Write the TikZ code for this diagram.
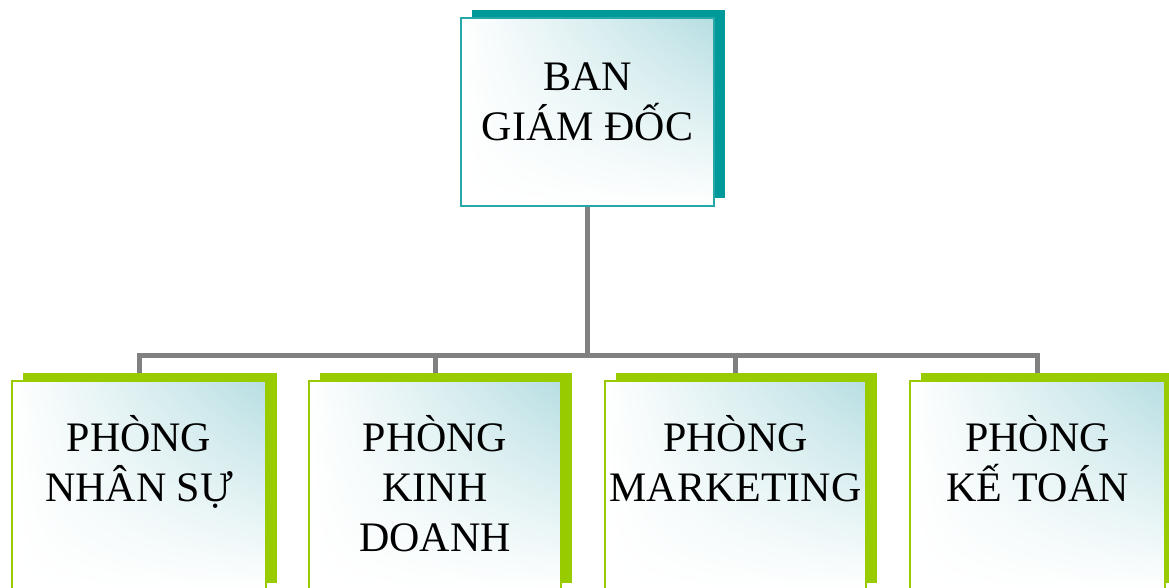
\documentclass[tikz,border=0pt]{standalone}
\usepackage{fontspec}
\setmainfont{Liberation Serif}
\usetikzlibrary{shadows,backgrounds,shadings}
\definecolor{tealsh}{HTML}{009999}
\definecolor{greensh}{HTML}{99CC00}
\definecolor{linegray}{HTML}{808080}
\definecolor{fillcyan}{HTML}{B7DEE2}
\tikzset{
  box/.style={rectangle, inner sep=0pt, outer sep=0pt, line width=2pt,
    shade, upper left=white, upper right=fillcyan, lower left=white, lower right=white},
  topbox/.style={box, draw=tealsh!85!white, minimum width=253pt, minimum height=188pt,
    general shadow={fill=tealsh, draw=none, shadow xshift=11pt, shadow yshift=8pt}},
  deptbox/.style={box, draw=greensh, minimum height=210pt,
    general shadow={fill=greensh, draw=none, shadow xshift=11pt, shadow yshift=8pt}},
  boxtext/.style={anchor=north, inner sep=0pt, align=center,
    font=\fontsize{42}{50}\selectfont, text=black},
  conn/.style={draw=linegray, line width=5pt, line join=miter}
}
\begin{document}
\begin{tikzpicture}[x=1pt, y=-1pt]
\path[use as bounding box, clip] (0,0) rectangle (1169,587);

\node[topbox] (top) at (587.5,112) {};
\node[deptbox, minimum width=254pt] (b1) at (139,485.5) {};
\node[deptbox, minimum width=252pt] (b2) at (435,485.5) {};
\node[deptbox, minimum width=261pt] (b3) at (735.5,485.5) {};
\node[deptbox, minimum width=255pt] (b4) at (1037.5,485.5) {};

\node[boxtext] (t0) at (587.5,44) {\rule{0pt}{46pt}BAN\\GIÁM ĐỐC};
\node[boxtext] (t1) at (139,405) {\rule{0pt}{46pt}PHÒNG\\NHÂN SỰ};
\node[boxtext] (t2) at (435,405) {\rule{0pt}{46pt}PHÒNG\\KINH\\DOANH};
\node[boxtext] (t3) at (735.5,405) {\rule{0pt}{46pt}PHÒNG\\MARKETING};
\node[boxtext] (t4) at (1037.5,405) {\rule{0pt}{46pt}PHÒNG\\KẾ TOÁN};

\begin{scope}[on background layer]
  \coordinate (bus) at (587.5,355.5);
  \draw[conn] (top.south) -- (bus);
  \draw[conn] (b1.north) |- (bus) -| (b4.north);
  \draw[conn] (b2.north) -- (b2.north |- bus);
  \draw[conn] (b3.north) -- (b3.north |- bus);
\end{scope}
\end{tikzpicture}
\end{document}
